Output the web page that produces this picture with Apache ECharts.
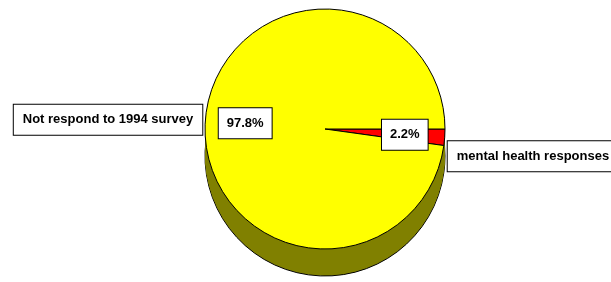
<!DOCTYPE html>
<html>
<head>
<meta charset="utf-8">
<script src="https://cdn.jsdelivr.net/npm/echarts@6/dist/echarts.min.js"></script>
<style>
  html, body { margin: 0; padding: 0; background: #fff; }
  #chart { width: 611px; height: 282px; }
</style>
</head>
<body>
<div id="chart"></div>
<script>
(function() {
  var myChart = echarts.init(document.getElementById('chart'));

  // slices, drawn clockwise from 3 o'clock
  var categories = ['mental health responses', 'Not respond to 1994 survey'];
  var values = [2.2, 97.8];
  var colors = ['#ff0000', '#ffff00'];

  var cx = 325, cy = 129, r = 120, depth = 27;
  var font = '"Liberation Sans", Arial, sans-serif';

  var boxStyle = {
    color: '#000',
    fontFamily: font,
    fontWeight: 'bold',
    fontSize: 13,
    backgroundColor: '#fff',
    borderColor: '#000',
    borderWidth: 1
  };

  var data = [];
  for (var i = 0; i < values.length; i++) {
    data.push({ name: categories[i], value: values[i] });
  }

  var series = [];
  // side of the 3D pie: stacked copies shifted down
  for (var d = depth; d >= 1; d--) {
    series.push({
      type: 'pie',
      silent: true,
      center: [cx, cy + d],
      radius: r,
      startAngle: 0,
      clockwise: true,
      label: { show: false },
      labelLine: { show: false },
      itemStyle: {
        color: '#808000',
        borderColor: d === depth ? '#000' : '#808000',
        borderWidth: d === depth ? 1 : 0
      },
      data: data
    });
  }

  // top face with category labels outside
  series.push({
    type: 'pie',
    silent: true,
    center: [cx, cy],
    radius: r,
    startAngle: 0,
    clockwise: true,
    avoidLabelOverlap: false,
    itemStyle: {
      color: function(p) { return colors[p.dataIndex]; },
      borderColor: '#000',
      borderWidth: 1
    },
    label: Object.assign({
      show: true,
      position: 'outside',
      formatter: '{b}',
      padding: [9, 9, 8, 9],
      distanceToLabelLine: 2
    }, boxStyle),
    labelLine: { show: false, length: 1, length2: 0 },
    labelLayout: function(p) {
      if (p.dataIndex === 0) return { dy: 19 };
      return { dy: -1 };
    },
    data: data
  });

  // percentage labels, placed further in from the rim
  series.push({
    type: 'pie',
    silent: true,
    center: [cx, cy],
    radius: [0, 158],
    startAngle: 0,
    clockwise: true,
    itemStyle: { color: 'transparent', borderWidth: 0 },
    label: Object.assign({
      show: true,
      position: 'inside',
      formatter: function(p) { return p.value.toFixed(1) + '%'; },
      padding: [9, 8, 8, 8]
    }, boxStyle),
    labelLine: { show: false },
    labelLayout: function(p) {
      if (p.dataIndex === 0) return { dx: -2 };
      return { dx: 2 };
    },
    data: data
  });

  var option = {
    backgroundColor: '#fff',
    animation: false,
    series: series
  };

  myChart.setOption(option);
  window.addEventListener('resize', function() {
    myChart.resize();
  });
})();
</script>
</body>
</html>
